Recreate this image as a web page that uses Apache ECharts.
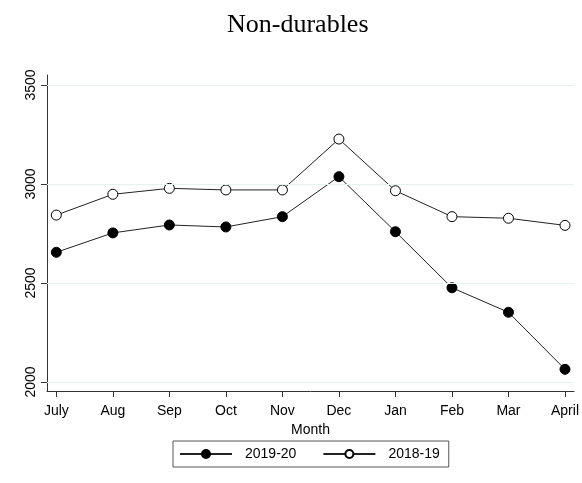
<!DOCTYPE html>
<html><head><meta charset="utf-8">
<script src="https://cdn.jsdelivr.net/npm/echarts@6/dist/echarts.min.js"></script>
<style>html,body{margin:0;padding:0;background:#fff}#c{width:582px;height:483px}</style>
</head><body><div id="c"></div>
<script>
const months = ['July','Aug','Sep','Oct','Nov','Dec','Jan','Feb','Mar','April'];
const s2019 = [2655, 2753, 2793, 2783, 2835, 3037, 2759, 2476, 2352, 2064];
const s2018 = [2843, 2948, 2978, 2970, 2970, 3227, 2966, 2835, 2827, 2791];
const yTicks = [2000, 2500, 3000, 3500];
const xIdx = months.map((m, i) => i);

const chart = echarts.init(document.getElementById('c'), null, {renderer: 'canvas'});
const lineStyle = {color: '#222', width: 1};
chart.setOption({
  animation: false,
  backgroundColor: '#fff',
  title: {text: 'Non-durables', left: 222, top: 7,
    textStyle: {fontFamily: 'Liberation Serif', fontWeight: 'normal', fontSize: 26, color: '#000'}},
  grid: {left: 47, right: 7, top: 75, bottom: 92},
  xAxis: {
    type: 'value', min: -0.165, max: 9.16,
    name: 'Month', nameLocation: 'middle', nameGap: 25,
    nameTextStyle: {fontFamily: 'Liberation Sans', fontSize: 14, color: '#000'},
    axisLine: {show: true, onZero: false, lineStyle: {color: '#333', width: 1}},
    axisTick: {show: true, length: 6, customValues: xIdx, lineStyle: {color: '#333'}},
    axisLabel: {customValues: xIdx, formatter: v => months[Math.round(v)], margin: 13,
      fontFamily: 'Liberation Sans', fontSize: 14, color: '#000'},
    splitLine: {show: false}
  },
  yAxis: {
    type: 'value', min: 1954.5, max: 3550.5,
    axisLine: {show: true, onZero: false, lineStyle: {color: '#333', width: 1}},
    axisTick: {show: true, length: 6, customValues: yTicks, lineStyle: {color: '#333'}},
    axisLabel: {customValues: yTicks, rotate: 90, margin: 9, formatter: v => String(v),
      fontFamily: 'Liberation Sans', fontSize: 14, color: '#000'},
    splitLine: {show: false}
  },
  legend: {
    bottom: 16, left: 173,
    borderColor: '#555', borderWidth: 1, padding: [6, 9, 6, 6],
    itemWidth: 52, itemHeight: 10, itemGap: 26,
    textStyle: {fontFamily: 'Liberation Sans', fontSize: 14, color: '#000', padding: [0, 0, 0, 8]},
    data: ['2019-20', '2018-19']
  },
  series: [
    {name: '2019-20', type: 'line', data: xIdx.map(i => [i, s2019[i]]),
      symbol: 'circle', symbolSize: 10, lineStyle: lineStyle,
      itemStyle: {color: '#000', borderColor: '#000', borderWidth: 1},
      markLine: {silent: true, symbol: 'none', label: {show: false},
        lineStyle: {color: '#e8f0f0', width: 1, type: 'solid'},
        data: yTicks.map(v => ({yAxis: v}))}
    },
    {name: '2018-19', type: 'line', data: xIdx.map(i => [i, s2018[i]]),
      symbol: 'circle', symbolSize: 10, lineStyle: lineStyle,
      itemStyle: {color: '#fff', borderColor: '#000', borderWidth: 1}
    }
  ]
});
</script></body></html>
